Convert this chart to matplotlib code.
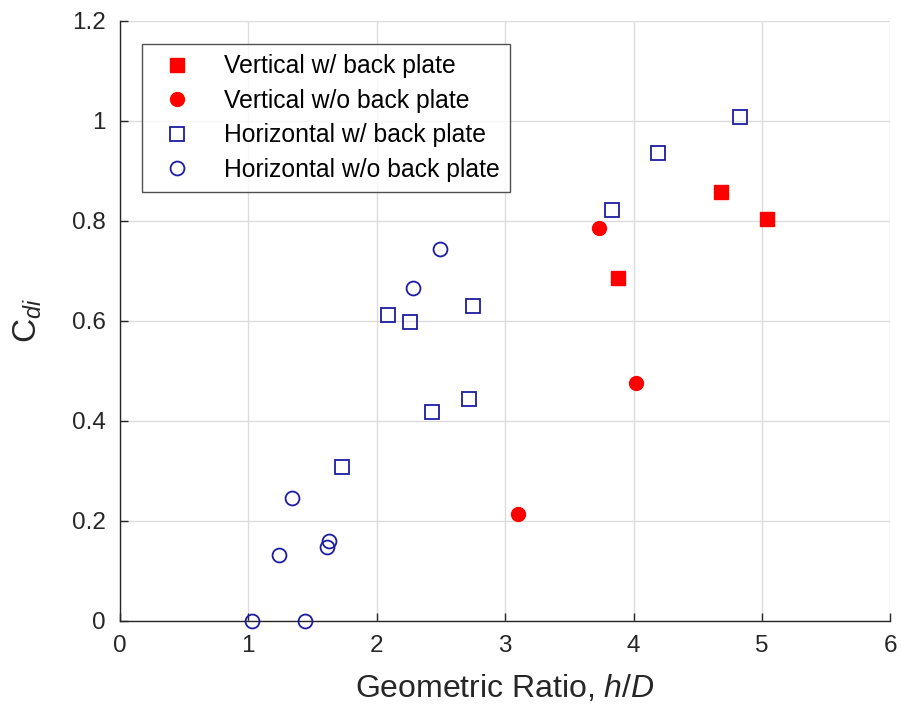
import numpy as np
import matplotlib
matplotlib.use("Agg")
import matplotlib.pyplot as plt

plt.rcParams['font.family'] = ['Liberation Sans', 'DejaVu Sans']
plt.rcParams['mathtext.fontset'] = 'custom'
plt.rcParams['mathtext.rm'] = 'Liberation Sans'
plt.rcParams['mathtext.it'] = 'Liberation Sans:italic'

# data
vert_bp_x = [3.88, 4.68, 5.04]
vert_bp_y = [0.686, 0.857, 0.803]

vert_nobp_x = [3.73, 4.02, 3.10]
vert_nobp_y = [0.785, 0.475, 0.214]

hor_bp_x = [4.83, 4.19, 3.83, 2.75, 2.09, 2.26, 2.72, 2.43, 1.73]
hor_bp_y = [1.007, 0.935, 0.821, 0.629, 0.611, 0.597, 0.443, 0.418, 0.307]

hor_nobp_x = [2.49, 2.28, 1.34, 1.63, 1.61, 1.24, 1.03, 1.44]
hor_nobp_y = [0.743, 0.665, 0.245, 0.159, 0.148, 0.132, 0.0, 0.0]

red = '#ff0000'
blue = '#1c1ca0'

fig = plt.figure(figsize=(9.02, 7.11), dpi=100)
ax = fig.add_axes([0.133, 0.127, 0.854, 0.844])

ax.plot(vert_bp_x, vert_bp_y, 's', color=red, mec=red, ms=10, label='Vertical w/ back plate', clip_on=False, zorder=3)
ax.plot(vert_nobp_x, vert_nobp_y, 'o', color=red, mec=red, ms=10, label='Vertical w/o back plate', clip_on=False, zorder=3)
ax.plot(hor_bp_x, hor_bp_y, 's', mfc='none', mec=blue, mew=1.3, ms=10, label='Horizontal w/ back plate', clip_on=False, zorder=3)
ax.plot(hor_nobp_x, hor_nobp_y, 'o', mfc='none', mec=blue, mew=1.3, ms=10, label='Horizontal w/o back plate', clip_on=False, zorder=3)

ax.set_xlim(0, 6)
ax.set_ylim(0, 1.2)
ax.set_xticks(np.arange(0, 7, 1))
ax.set_yticks([0, 0.2, 0.4, 0.6, 0.8, 1.0, 1.2])
ax.set_yticklabels(['0', '0.2', '0.4', '0.6', '0.8', '1', '1.2'])
ax.grid(True, color='#dcdcdc', lw=1.0)
ax.set_axisbelow(True)
for s in ['top', 'right']:
    ax.spines[s].set_visible(False)
for s in ['left', 'bottom']:
    ax.spines[s].set_color('#262626')
    ax.spines[s].set_linewidth(1.0)
ax.tick_params(direction='in', length=6, width=1, colors='#262626', labelsize=17.5)
ax.tick_params(axis='x', pad=10)
ax.tick_params(axis='y', pad=10)

ax.set_xlabel('Geometric Ratio, $h/D$', fontsize=23, color='#262626', labelpad=12)
ax.set_ylabel('C$_{di}$', fontsize=24, color='#262626', labelpad=20)

leg = ax.legend(loc='upper left', bbox_to_anchor=(0.028, 0.961), borderaxespad=0, fontsize=17.8,
                frameon=True, fancybox=False, edgecolor='#262626', handletextpad=0.9, borderpad=0.42,
                labelspacing=0.42)
leg.get_frame().set_linewidth(1.0)

fig.savefig('out.png', dpi=100)
